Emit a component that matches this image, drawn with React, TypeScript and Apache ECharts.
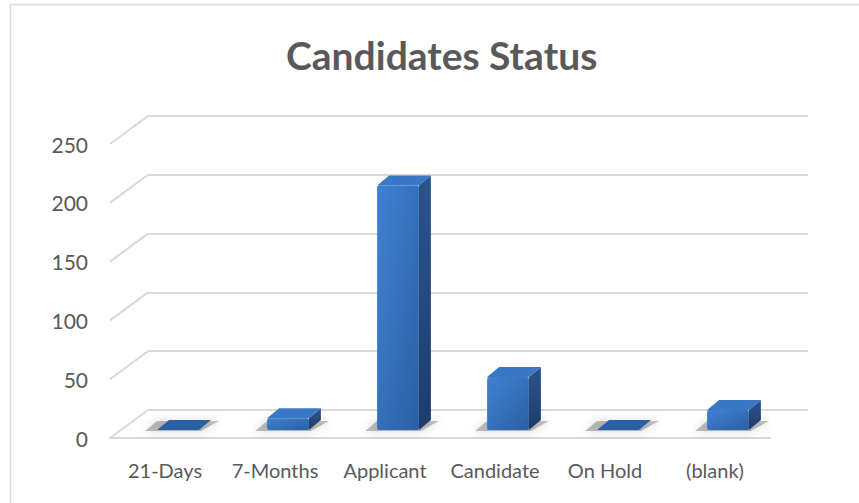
import React, { useEffect, useRef } from "react";
import * as echarts from "echarts";

const categories = ["21-Days", "7-Months", "Applicant", "Candidate", "On Hold", "(blank)"];
const values = [0, 10, 208, 45, 0, 17];
const yTicks = [0, 50, 100, 150, 200, 250];

const TITLE = "Candidates Status";
const GRID_COLOR = "#d9d9d9";
const TEXT_COLOR = "#595959";
const FONT = "Lato, 'Open Sans', sans-serif";

// oblique depth offset of the back wall relative to the front plane (pixels)
const WALL_DX = 38;
const WALL_DY = -28;

export default function App() {
  const ref = useRef<HTMLDivElement>(null);

  useEffect(() => {
    if (!ref.current) return;
    const chart = echarts.init(ref.current, undefined, { renderer: "svg" });

    const option: any = {
      animation: false,
      backgroundColor: "#ffffff",
      title: {
        text: TITLE,
        left: 281,
        top: 30,
        textStyle: { fontFamily: FONT, fontWeight: "bold", fontSize: 39, color: TEXT_COLOR },
      },
      graphic: [
        {
          type: "rect",
          shape: { x: 10.5, y: 4.5, width: 880, height: 560 },
          style: { fill: "none", stroke: GRID_COLOR, lineWidth: 1.5 },
          silent: true,
          z: -10,
        },
      ],
      grid: [
        // back wall
        { left: 148, right: 51, top: 116, bottom: 93 },
        // front plane
        { left: 110, right: 89, top: 144, bottom: 65 },
      ],
      xAxis: [
        { type: "category", gridIndex: 0, data: categories, show: false },
        {
          type: "category",
          gridIndex: 1,
          data: categories,
          axisLine: { show: true, lineStyle: { color: GRID_COLOR, width: 2 } },
          axisTick: { show: false },
          axisLabel: { color: TEXT_COLOR, fontSize: 20, fontFamily: FONT, margin: 22, interval: 0 },
          splitLine: { show: false },
        },
      ],
      yAxis: [
        {
          type: "value",
          gridIndex: 0,
          min: 0,
          max: 250,
          interval: 50,
          axisLine: { show: false },
          axisTick: { show: false },
          axisLabel: { show: false },
          splitLine: { show: true, lineStyle: { color: GRID_COLOR, width: 2 } },
        },
        {
          type: "value",
          gridIndex: 1,
          min: 0,
          max: 250,
          interval: 50,
          axisLine: { show: false },
          axisTick: { show: false },
          axisLabel: { color: TEXT_COLOR, fontSize: 21, fontFamily: FONT, margin: 22 },
          splitLine: { show: false },
        },
      ],
      series: [
        {
          // oblique side-wall lines from front to back for every tick
          type: "custom",
          xAxisIndex: 1,
          yAxisIndex: 1,
          silent: true,
          z: 1,
          data: yTicks.map((t) => [0, t]),
          renderItem: (params: any, api: any) => {
            const p = api.coord([0, api.value(1)]);
            const x = params.coordSys.x;
            return {
              type: "line",
              shape: { x1: x, y1: p[1], x2: x + WALL_DX, y2: p[1] + WALL_DY },
              style: { stroke: GRID_COLOR, lineWidth: 2 },
            };
          },
        },
        {
          // 3D bars
          type: "custom",
          xAxisIndex: 1,
          yAxisIndex: 1,
          z: 5,
          data: values.map((v, i) => [i, v]),
          renderItem: (params: any, api: any) => {
            const i = api.value(0);
            const v = api.value(1);
            const base = api.coord([i, 0]);
            const top = api.coord([i, v]);
            const bw = api.size([1, 0])[0] * 0.38;
            const ox = 13;
            const oy = -8;
            const dx = 12;
            const dy = -10;
            const x0 = base[0] + ox - bw / 2;
            const x1 = x0 + bw;
            const yb = base[1] + oy;
            const yt = top[1] + oy;
            const h = yb - yt;
            const children: any[] = [
              {
                type: "polygon",
                shape: {
                  points: [
                    [x0 - 12, yb + 1],
                    [x1 + 2, yb + 1],
                    [x1 + dx + 8, yb + dy + 1],
                    [x0 + dx - 12, yb + dy + 1],
                  ],
                },
                style: {
                  fill: "rgba(80,80,80,0.35)",
                  shadowBlur: 8,
                  shadowColor: "rgba(60,60,60,0.6)",
                },
              },
            ];
            if (h > 0.5) {
              children.push(
                {
                  type: "rect",
                  shape: { x: x0, y: yt, width: bw, height: h, r: 2 },
                  style: {
                    fill: new echarts.graphic.LinearGradient(0, 0, 1, 1, [
                      { offset: 0, color: "#3f82d2" },
                      { offset: 1, color: "#2b5fa3" },
                    ]),
                  },
                },
                {
                  type: "polygon",
                  shape: {
                    points: [
                      [x1, yt],
                      [x1 + dx, yt + dy],
                      [x1 + dx, yb + dy],
                      [x1, yb],
                    ],
                  },
                  style: {
                    fill: new echarts.graphic.LinearGradient(0, 0, 0, 1, [
                      { offset: 0, color: "#2a548e" },
                      { offset: 1, color: "#1d3d6b" },
                    ]),
                  },
                }
              );
            }
            children.push({
              type: "polygon",
              shape: {
                points: [
                  [x0, yt],
                  [x1, yt],
                  [x1 + dx, yt + dy],
                  [x0 + dx, yt + dy],
                ],
              },
              style: { fill: h > 0.5 ? "#3a77c5" : "#2d5fa5" },
            });
            return { type: "group", children };
          },
        },
      ],
    };

    chart.setOption(option);
    return () => chart.dispose();
  }, []);

  return (
    <div
      ref={ref}
      style={{ position: "absolute", left: 0, top: 0, width: 859, height: 503, background: "#fff" }}
    />
  );
}
